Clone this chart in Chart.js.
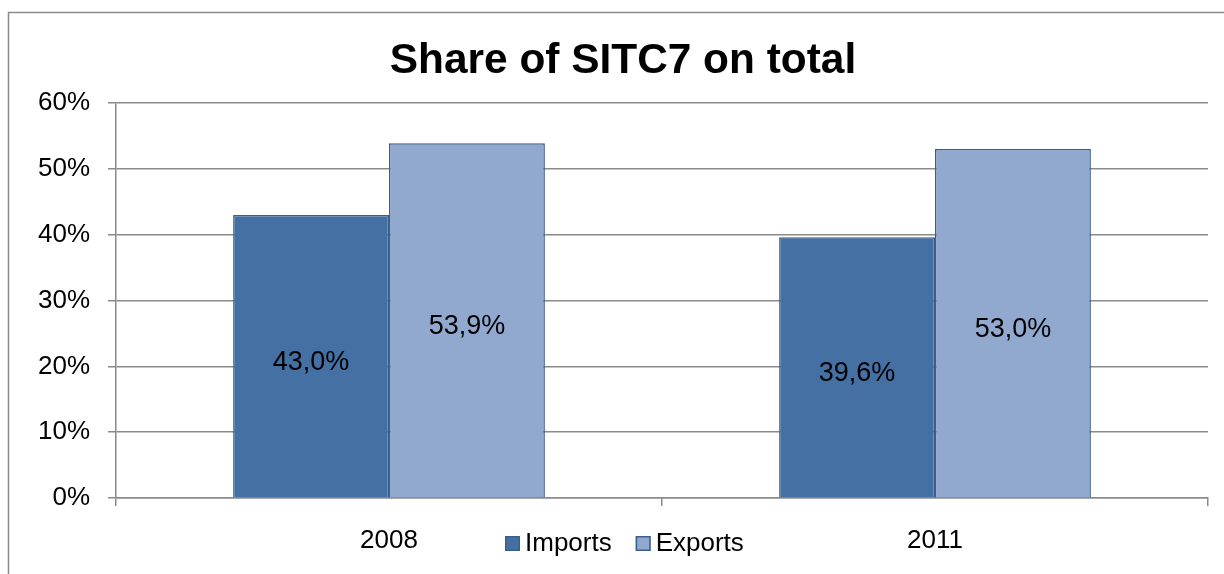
<!DOCTYPE html>
<html>
<head>
<meta charset="utf-8">
<script src="https://cdn.jsdelivr.net/npm/chart.js@4.4.1/dist/chart.umd.min.js"></script>
<style>
  html, body { margin: 0; padding: 0; background: #fff; }
  #wrap { width: 1224px; height: 574px; }
</style>
</head>
<body>
<div id="wrap"><canvas id="chart" width="1224" height="574"></canvas></div>
<script>
// Datos del gráfico
var titulo = 'Share of SITC7 on total';
var years = ['2008', '2011'];
var seriesNames = ['Imports', 'Exports'];
var importsShare = [43.0, 39.6];
var exportsShare = [53.9, 53.0];
var yTicks = [0, 10, 20, 30, 40, 50, 60];

var FONT = '"Liberation Sans", Arial, sans-serif';
var colores = {
    imports: '#4470a3',
    exports: '#92a9cf',
    borde: '#3a5f8e',
    gris: '#8a8a8a'
};

// Marco exterior y título
var marcoPlugin = {
    id: 'marco',
    beforeDraw: function (chart) {
        var ctx = chart.ctx;
        ctx.save();
        ctx.fillStyle = '#fff';
        ctx.fillRect(0, 0, chart.width, chart.height);
        ctx.strokeStyle = colores.gris;
        ctx.lineWidth = 1.5;
        ctx.beginPath();
        ctx.moveTo(8.5, chart.height);
        ctx.lineTo(8.5, 12.5);
        ctx.lineTo(chart.width, 12.5);
        ctx.stroke();

        ctx.fillStyle = '#000';
        ctx.font = 'bold 42.4px ' + FONT;
        ctx.textAlign = 'center';
        ctx.textBaseline = 'alphabetic';
        ctx.fillText(titulo, 623, 73);
        ctx.restore();
    }
};

// Etiquetas con el valor dentro de cada barra
var etiquetasPlugin = {
    id: 'etiquetas',
    afterDatasetsDraw: function (chart) {
        var ctx = chart.ctx;
        ctx.save();
        ctx.font = '27px ' + FONT;
        ctx.fillStyle = '#000';
        ctx.textAlign = 'center';
        ctx.textBaseline = 'middle';
        chart.data.datasets.forEach(function (ds, i) {
            chart.getDatasetMeta(i).data.forEach(function (bar, j) {
                var texto = ds.data[j].toFixed(1).replace('.', ',') + '%';
                ctx.fillText(texto, bar.x, (bar.y + bar.base) / 2 + 6);
            });
        });
        ctx.restore();
    }
};

// Leyenda propia, en la misma línea que las categorías
var leyendaPlugin = {
    id: 'leyenda',
    afterDraw: function (chart) {
        var ctx = chart.ctx;
        var x = 505, y = 543.5;
        ctx.save();
        ctx.font = '26px ' + FONT;
        ctx.textBaseline = 'middle';
        chart.data.datasets.forEach(function (ds) {
            ctx.fillStyle = ds.backgroundColor;
            ctx.fillRect(x, y - 7.5, 15, 15);
            ctx.strokeStyle = ds.borderColor;
            ctx.lineWidth = 1.5;
            ctx.strokeRect(x + 0.75, y - 6.75, 13.5, 13.5);
            ctx.fillStyle = '#000';
            ctx.fillText(ds.label, x + 20, y);
            x += 20 + ctx.measureText(ds.label).width + 24;
        });
        ctx.restore();
    }
};

var ctx = document.getElementById('chart').getContext('2d');
var chart = new Chart(ctx, {
    type: 'bar',
    data: {
        labels: years,
        datasets: [{
            label: seriesNames[0],
            data: importsShare,
            backgroundColor: colores.imports,
            borderColor: colores.borde,
            borderWidth: 1.5
        }, {
            label: seriesNames[1],
            data: exportsShare,
            backgroundColor: colores.exports,
            borderColor: colores.borde,
            borderWidth: 1.5
        }]
    },
    options: {
        responsive: false,
        animation: false,
        devicePixelRatio: 1,
        layout: { padding: { left: 0, right: 16, top: 103, bottom: 0 } },
        datasets: {
            bar: { categoryPercentage: 0.571, barPercentage: 1.0 }
        },
        plugins: {
            legend: { display: false },
            tooltip: { enabled: false },
            title: { display: false }
        },
        scales: {
            x: {
                offset: true,
                afterFit: function (scale) { scale.height = 76; },
                grid: {
                    offset: true,
                    drawOnChartArea: false,
                    drawTicks: true,
                    tickLength: 8,
                    color: colores.gris,
                    lineWidth: 1.5
                },
                border: { display: true, color: colores.gris, width: 1.5 },
                ticks: {
                    color: '#000',
                    padding: 19,
                    font: { family: FONT, size: 26 }
                }
            },
            y: {
                min: 0,
                max: 60,
                afterFit: function (scale) { scale.width = 116; },
                afterBuildTicks: function (scale) {
                    scale.ticks = yTicks.map(function (v) { return { value: v }; });
                },
                grid: {
                    color: colores.gris,
                    lineWidth: 1.5,
                    drawTicks: true,
                    tickLength: 8
                },
                border: { display: true, color: colores.gris, width: 1.5 },
                ticks: {
                    color: '#000',
                    padding: 18,
                    font: { family: FONT, size: 26 },
                    callback: function (v) { return v + '%'; }
                }
            }
        }
    },
    plugins: [marcoPlugin, etiquetasPlugin, leyendaPlugin]
});
</script>
</body>
</html>
